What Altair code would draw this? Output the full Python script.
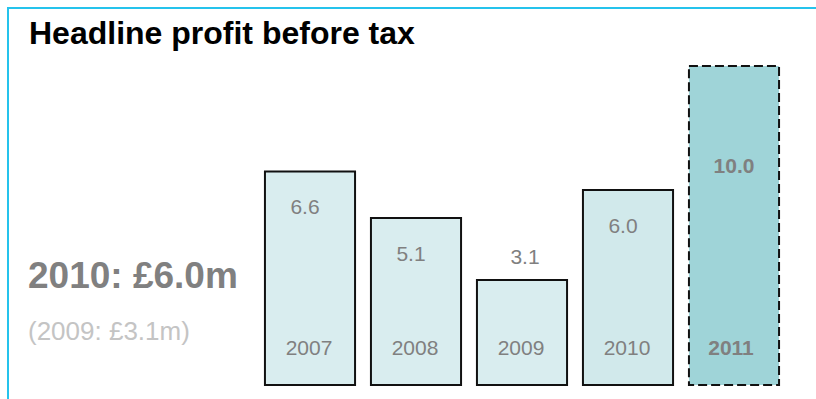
import altair as alt
import pandas as pd

# ---- data ----
YEARS = ["2007", "2008", "2009", "2010", "2011"]
PROFIT = [6.6, 5.1, 3.1, 6.0, 10.0]
STATUS = ["actual", "actual", "actual", "actual", "target"]
VALUE_LABELS = ["6.6", "5.1", "3.1", "6.0", "10.0"]

TITLE = "Headline profit before tax"
HEADLINE = "2010: £6.0m"
COMPARE = "(2009: £3.1m)"

FONT = "Liberation Sans"
GREY = "#808080"
BORDER = "#25c3ec"

df = pd.DataFrame({"year": YEARS, "profit": PROFIT, "status": STATUS, "label": VALUE_LABELS})

W, H = 530, 345
PAD_L, PAD_T = 257, 40
YMIN, YMAX = -0.29, 10.84

x = alt.X("year:O", axis=None, scale=alt.Scale(paddingInner=0.15, paddingOuter=0.075))
y = alt.Y("profit:Q", axis=None, scale=alt.Scale(domain=[YMIN, YMAX], zero=False, nice=False))
y2 = alt.Y2(datum=YMIN)
fill = alt.Color("year:O", legend=None,
                 scale=alt.Scale(domain=YEARS,
                                 range=["#d9edef", "#d9edef", "#d9edef", "#d1e9eb", "#9fd4d8"]))

base = alt.Chart(df)

bars_actual = base.transform_filter(alt.datum.status == "actual").mark_bar(
    stroke="#111111", strokeWidth=2
).encode(x=x, y=y, y2=y2, fill=fill)

bars_target = base.transform_filter(alt.datum.status == "target").mark_bar(
    stroke="#111111", strokeWidth=2, strokeDash=[9, 4]
).encode(x=x, y=y, y2=y2, fill=fill)

txt = dict(font=FONT, fontSize=21, color=GREY, baseline="middle", align="center")

vals_in = base.transform_filter(
    (alt.datum.status == "actual") & (alt.datum.year != "2009")
).mark_text(dy=37, dx=-5, **txt).encode(x=x, y=y, text="label:N")

vals_2009 = base.transform_filter(alt.datum.year == "2009").mark_text(
    dy=-22, dx=3, **txt).encode(x=x, y=y, text="label:N")

vals_target = base.transform_filter(alt.datum.status == "target").mark_text(
    dy=101, fontWeight="bold", **txt).encode(x=x, y=y, text="label:N")

years_actual = base.transform_filter(alt.datum.status == "actual").mark_text(
    dx=-1, **txt).encode(x=x, y=alt.value(349 - PAD_T), text="year:N")

years_target = base.transform_filter(alt.datum.status == "target").mark_text(
    dx=-3, fontWeight="bold", **txt).encode(x=x, y=alt.value(349 - PAD_T), text="year:N")

title = alt.Chart(pd.DataFrame({"t": [TITLE]})).mark_text(
    font=FONT, fontSize=32, fontWeight="bold", color="#000000", align="left", baseline="alphabetic"
).encode(x=alt.value(29 - PAD_L), y=alt.value(44 - PAD_T), text="t:N")

headline = alt.Chart(pd.DataFrame({"t": [HEADLINE]})).mark_text(
    font=FONT, fontSize=37, fontWeight="bold", color=GREY, align="left", baseline="alphabetic"
).encode(x=alt.value(28 - PAD_L), y=alt.value(288 - PAD_T), text="t:N")

compare = alt.Chart(pd.DataFrame({"t": [COMPARE]})).mark_text(
    font=FONT, fontSize=26, color="#c4c4c4", align="left", baseline="alphabetic"
).encode(x=alt.value(28 - PAD_L), y=alt.value(340 - PAD_T), text="t:N")

frame_top = alt.Chart(pd.DataFrame({"k": [0]})).mark_rule(color=BORDER, strokeWidth=2).encode(
    x=alt.value(7 - PAD_L), x2=alt.value(816 - PAD_L + 5), y=alt.value(8 - PAD_T))
frame_left = alt.Chart(pd.DataFrame({"k": [0]})).mark_rule(color=BORDER, strokeWidth=2).encode(
    x=alt.value(8 - PAD_L), y=alt.value(7 - PAD_T), y2=alt.value(399 - PAD_T + 5))

chart = alt.layer(
    frame_top, frame_left,
    bars_actual, bars_target,
    vals_in, vals_2009, vals_target, years_actual, years_target,
    title, headline, compare,
).properties(
    width=W, height=H,
    autosize=alt.AutoSizeParams(type="none"),
    padding={"left": PAD_L, "top": PAD_T, "right": 816 - PAD_L - W, "bottom": 399 - PAD_T - H},
    background="white",
).configure_view(strokeWidth=0)

chart.save("out.html", embed_options={"renderer": "svg", "actions": False})
